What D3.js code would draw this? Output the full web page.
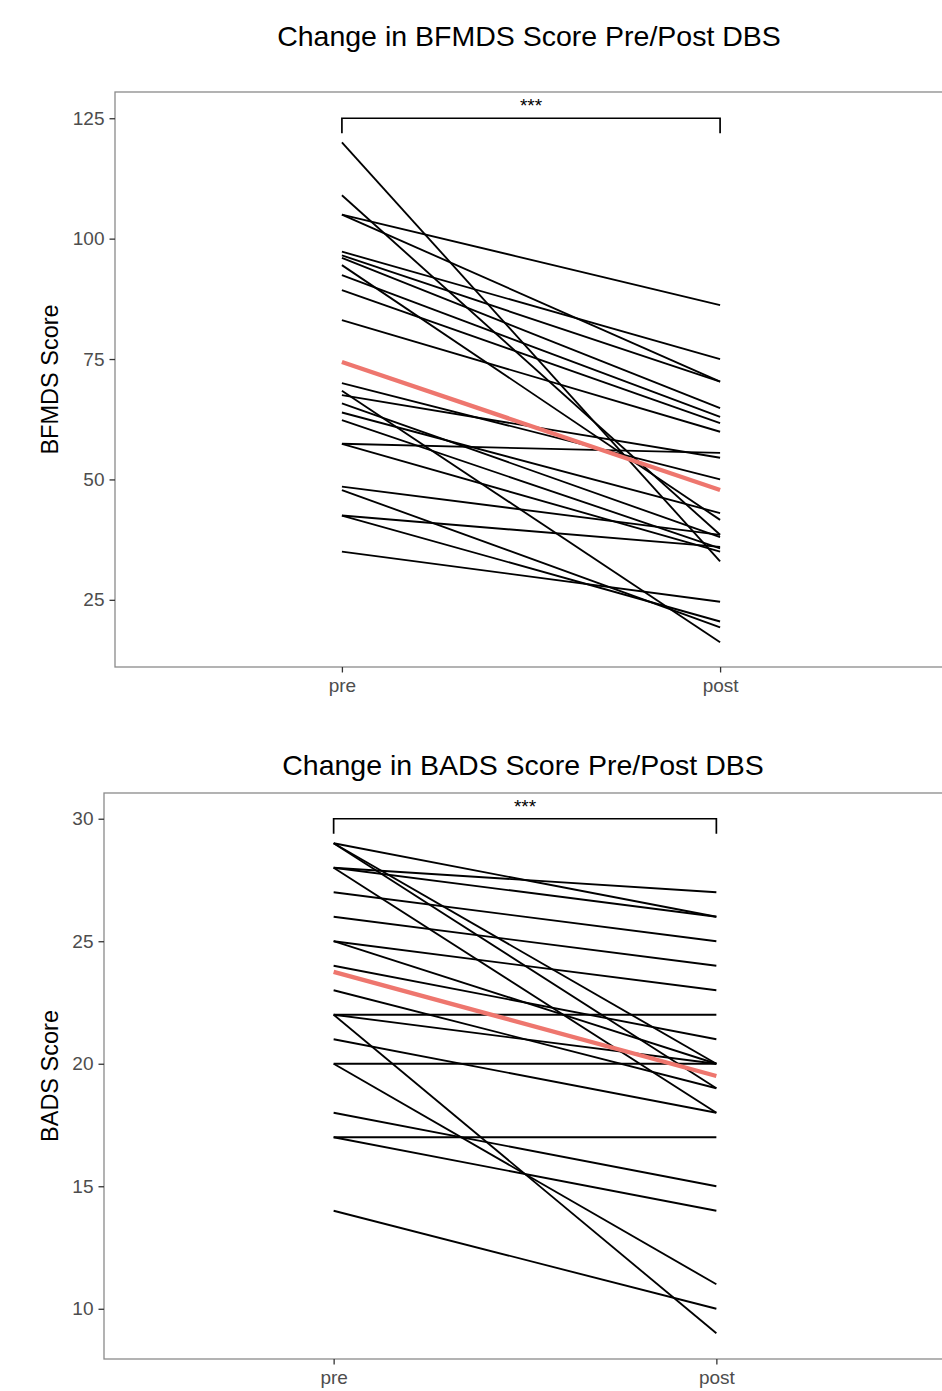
<!DOCTYPE html>
<html>
<head>
<meta charset="utf-8">
<script src="https://cdn.jsdelivr.net/npm/d3@7"></script>
<style>
  html, body { margin: 0; padding: 0; background: #ffffff; }
  svg { display: block; font-family: "Liberation Sans", Arial, Helvetica, sans-serif; }
</style>
</head>
<body>
<svg id="chart" width="942" height="1391"></svg>
<script>
// ---------------- data ----------------
const categories = ["pre", "post"];

// BFMDS (top panel) — one entry per patient
const bfmdsPre  = [120, 109, 105, 105, 97.3, 96.5, 96, 94.5, 92.4, 89.3, 83.1, 70, 68.4, 67.5, 65.8, 63.9, 62.3, 57.4, 57.4, 48.5, 47.8, 42.5, 42.5, 35];
const bfmdsPost = [33, 38.5, 86.2, 70.3, 75, 70.3, 64.8, 41.6, 63, 61.7, 59.9, 50, 16.2, 54.5, 38, 43, 35.7, 55.5, 35, 38.5, 19.3, 36, 20.5, 24.6];
const bfmdsMean = [74.4, 47.8];
const bfmdsTicks = [25, 50, 75, 100, 125];
const bfmdsBracket = 125;

// BADS (bottom panel)
const badsPre  = [29, 29, 29, 28, 28, 28, 27, 26, 25, 25, 24, 23, 22, 22, 22, 21, 20, 20, 18, 17, 17, 14];
const badsPost = [26, 20, 19, 27, 26, 18, 25, 24, 23, 20, 21, 19, 22, 9, 20, 18, 20, 11, 15, 17, 14, 10];
const badsMean = [23.75, 19.5];
const badsTicks = [10, 15, 20, 25, 30];
const badsBracket = 30;

const sigLabel = "***";

// ---------------- drawing ----------------
const svg = d3.select("#chart");

function panel(opts) {
  const { pre, post, mean, ticks, bracket, title, yTitle,
          left, right, top, bottom, yDomain, titleY, yTitleX } = opts;

  const x = d3.scalePoint().domain(categories).range([left, right]).padding(0.6);
  const y = d3.scaleLinear().domain(yDomain).range([bottom, top]);

  const g = svg.append("g");

  // title
  g.append("text")
    .attr("x", (left + right) / 2 - 2)
    .attr("y", titleY)
    .attr("text-anchor", "middle")
    .attr("font-size", 28.5)
    .attr("fill", "#000")
    .text(title);

  // lines per patient
  const pairs = pre.map((v, i) => [v, post[i]]);
  const line = d3.line().x((d, i) => x(categories[i])).y(d => y(d));
  g.append("g").selectAll("path").data(pairs).join("path")
    .attr("d", line)
    .attr("fill", "none")
    .attr("stroke", "#000")
    .attr("stroke-width", 1.85);

  // mean line
  g.append("path")
    .attr("d", line(mean))
    .attr("fill", "none")
    .attr("stroke", "#ee766e")
    .attr("stroke-width", 4.3)
    .attr("stroke-linecap", "butt");

  // significance bracket
  const by = y(bracket);
  const tip = 15;
  g.append("path")
    .attr("d", `M${x("pre")},${by + tip}V${by}H${x("post")}V${by + tip}`)
    .attr("fill", "none")
    .attr("stroke", "#000")
    .attr("stroke-width", 1.7);
  g.append("text")
    .attr("x", (x("pre") + x("post")) / 2)
    .attr("y", by - 6)
    .attr("text-anchor", "middle")
    .attr("font-size", 19)
    .attr("fill", "#000")
    .text(sigLabel);

  // panel border (top + left + bottom), right side is off-canvas
  g.append("rect")
    .attr("x", left).attr("y", top)
    .attr("width", right - left).attr("height", bottom - top)
    .attr("fill", "none")
    .attr("stroke", "#8a8a8a")
    .attr("stroke-width", 1.3);

  // y axis
  const yAxis = d3.axisLeft(y).tickValues(ticks).tickSize(5.5).tickPadding(5);
  const ya = g.append("g").attr("transform", `translate(${left},0)`).call(yAxis);
  ya.select(".domain").remove();
  ya.selectAll(".tick line").attr("stroke", "#333").attr("stroke-width", 1.3);
  ya.selectAll(".tick text").attr("font-size", 19).attr("fill", "#4d4d4d")
    .attr("font-family", "Liberation Sans, Arial, sans-serif");

  // x axis
  const xAxis = d3.axisBottom(x).tickSize(5.5).tickPadding(6);
  const xa = g.append("g").attr("transform", `translate(0,${bottom})`).call(xAxis);
  xa.select(".domain").remove();
  xa.selectAll(".tick line").attr("stroke", "#333").attr("stroke-width", 1.3);
  xa.selectAll(".tick text").attr("font-size", 19).attr("fill", "#4d4d4d")
    .attr("font-family", "Liberation Sans, Arial, sans-serif");

  // y title
  g.append("text")
    .attr("transform", `translate(${yTitleX},${(top + bottom) / 2}) rotate(-90)`)
    .attr("text-anchor", "middle")
    .attr("font-size", 23.5)
    .attr("fill", "#000")
    .text(yTitle);
}

panel({
  pre: bfmdsPre, post: bfmdsPost, mean: bfmdsMean, ticks: bfmdsTicks, bracket: bfmdsBracket,
  title: "Change in BFMDS Score Pre/Post DBS", yTitle: "BFMDS Score",
  left: 115, right: 947, top: 92, bottom: 667, yDomain: [11.05, 130.45],
  titleY: 46, yTitleX: 58
});

panel({
  pre: badsPre, post: badsPost, mean: badsMean, ticks: badsTicks, bracket: badsBracket,
  title: "Change in BADS Score Pre/Post DBS", yTitle: "BADS Score",
  left: 104, right: 946, top: 793, bottom: 1359, yDomain: [7.95, 31.05],
  titleY: 775, yTitleX: 58
});
</script>
</body>
</html>
